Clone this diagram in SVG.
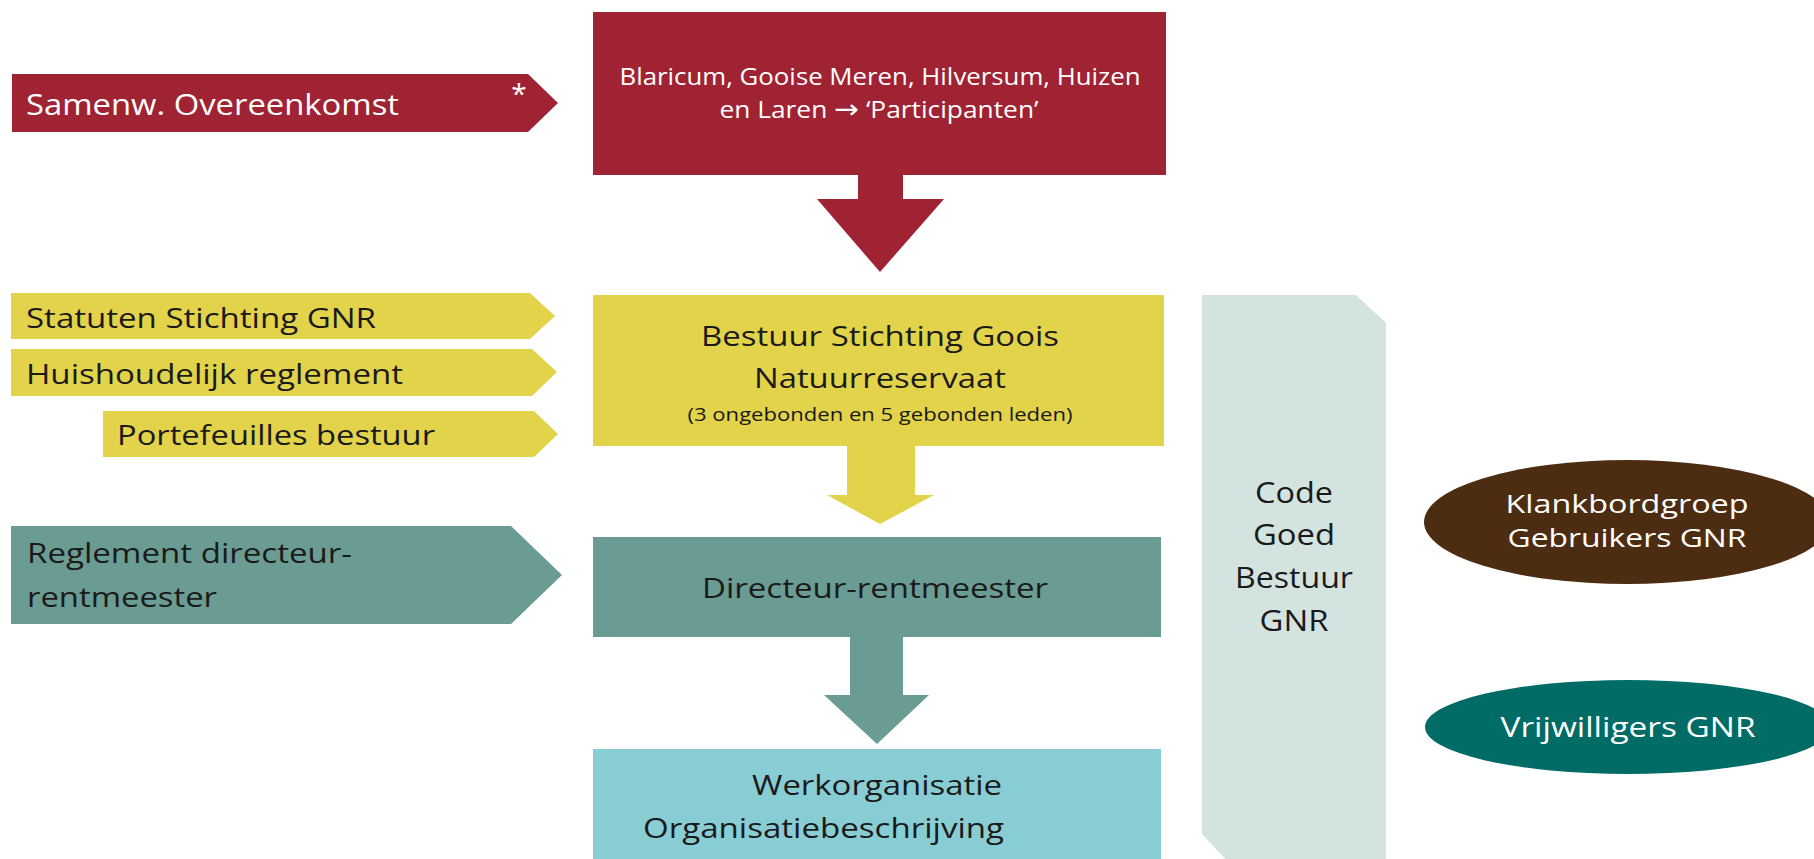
<svg xmlns="http://www.w3.org/2000/svg" width="1814" height="859" viewBox="0 0 1814 859">
<style>
text{font-family:"Open Sans","Noto Sans","Liberation Sans",sans-serif;}
.w{fill:#ffffff;}
.k{fill:#1a1a1a;}
.c{text-anchor:middle;}
.red{fill:#a02334;}
.yel{fill:#e3d34a;}
.teal{fill:#6b9c93;}
.lblue{fill:#89cdd4;}
.panel{fill:#d3e3e0;}
</style>
<rect x="0" y="0" width="1814" height="859" fill="#ffffff"/>

<g id="connectors">
  <polygon class="red" points="858,175 903,175 903,199 944,199 880,272 817,199 858,199"/>
  <polygon class="yel" points="847,446 915,446 915,495 934,495 880,524 827,495 847,495"/>
  <polygon class="teal" points="850,637 903,637 903,695 929,695 877,744 824,695 850,695"/>
</g>

<g id="samenw">
  <polygon class="red" points="12,74 528,74 558,103 528,132 12,132"/>
  <text class="w" x="26" y="115" font-size="30" textLength="373" lengthAdjust="spacingAndGlyphs">Samenw. Overeenkomst</text>
  <text class="w c" x="519" y="104" font-size="28">*</text>
</g>

<g id="participanten">
  <rect class="red" x="593" y="12" width="573" height="163"/>
  <text class="w c" x="880" y="85" font-size="23" textLength="521" lengthAdjust="spacingAndGlyphs">Blaricum, Gooise Meren, Hilversum, Huizen</text>
  <text class="w c" x="879" y="118" font-size="23" textLength="319" lengthAdjust="spacingAndGlyphs">en Laren <tspan font-family="DejaVu Sans, sans-serif" font-size="26">→</tspan> ‘Participanten’</text>
</g>

<g id="statuten">
  <polygon class="yel" points="11,293 530,293 555,316 530,339 11,339"/>
  <text class="k" x="26" y="328" font-size="28" textLength="350" lengthAdjust="spacingAndGlyphs">Statuten Stichting GNR</text>
</g>

<g id="huishoudelijk">
  <polygon class="yel" points="11,349 532,349 557,372 532,396 11,396"/>
  <text class="k" x="26" y="384" font-size="28" textLength="377" lengthAdjust="spacingAndGlyphs">Huishoudelijk reglement</text>
</g>

<g id="portefeuilles">
  <polygon class="yel" points="103,411 534,411 558,434 534,457 103,457"/>
  <text class="k" x="117" y="445" font-size="28" textLength="318" lengthAdjust="spacingAndGlyphs">Portefeuilles bestuur</text>
</g>

<g id="bestuur">
  <rect class="yel" x="593" y="295" width="571" height="151"/>
  <text class="k c" x="880" y="346" font-size="27" textLength="358" lengthAdjust="spacingAndGlyphs">Bestuur Stichting Goois</text>
  <text class="k c" x="880" y="388" font-size="27" textLength="252" lengthAdjust="spacingAndGlyphs">Natuurreservaat</text>
  <text class="k c" x="880" y="421" font-size="18" textLength="385" lengthAdjust="spacingAndGlyphs">(3 ongebonden en 5 gebonden leden)</text>
</g>

<g id="reglement">
  <polygon class="teal" points="11,526 511,526 562,575 511,624 11,624"/>
  <text class="k" x="27" y="563" font-size="28" textLength="325" lengthAdjust="spacingAndGlyphs">Reglement directeur-</text>
  <text class="k" x="27" y="607" font-size="28" textLength="190" lengthAdjust="spacingAndGlyphs">rentmeester</text>
</g>

<g id="directeur">
  <rect class="teal" x="593" y="537" width="568" height="100"/>
  <text class="k c" x="875" y="598" font-size="28" textLength="346" lengthAdjust="spacingAndGlyphs">Directeur-rentmeester</text>
</g>

<g id="werkorganisatie">
  <rect class="lblue" x="593" y="749" width="568" height="115"/>
  <text class="k c" x="877" y="795" font-size="28" textLength="250" lengthAdjust="spacingAndGlyphs">Werkorganisatie</text>
  <text class="k" x="643" y="838" font-size="28" textLength="361" lengthAdjust="spacingAndGlyphs">Organisatiebeschrijving</text>
</g>

<g id="code-goed-bestuur">
  <polygon class="panel" points="1202,295 1356,295 1386,323 1386,864 1230,864 1202,834"/>
  <text class="k c" x="1294" y="503" font-size="30" textLength="78" lengthAdjust="spacingAndGlyphs">Code</text>
  <text class="k c" x="1294" y="545" font-size="30" textLength="82" lengthAdjust="spacingAndGlyphs">Goed</text>
  <text class="k c" x="1294" y="588" font-size="30" textLength="118" lengthAdjust="spacingAndGlyphs">Bestuur</text>
  <text class="k c" x="1294" y="631" font-size="30" textLength="69" lengthAdjust="spacingAndGlyphs">GNR</text>
</g>

<g id="klankbordgroep">
  <ellipse cx="1627" cy="522" rx="203" ry="62" fill="#4d2d11"/>
  <text class="w c" x="1627" y="513" font-size="25" textLength="243" lengthAdjust="spacingAndGlyphs">Klankbordgroep</text>
  <text class="w c" x="1627" y="547" font-size="25" textLength="239" lengthAdjust="spacingAndGlyphs">Gebruikers GNR</text>
</g>

<g id="vrijwilligers">
  <ellipse cx="1628" cy="727" rx="203" ry="47" fill="#006c65"/>
  <text class="w c" x="1628" y="737" font-size="28" textLength="255" lengthAdjust="spacingAndGlyphs">Vrijwilligers GNR</text>
</g>
</svg>
